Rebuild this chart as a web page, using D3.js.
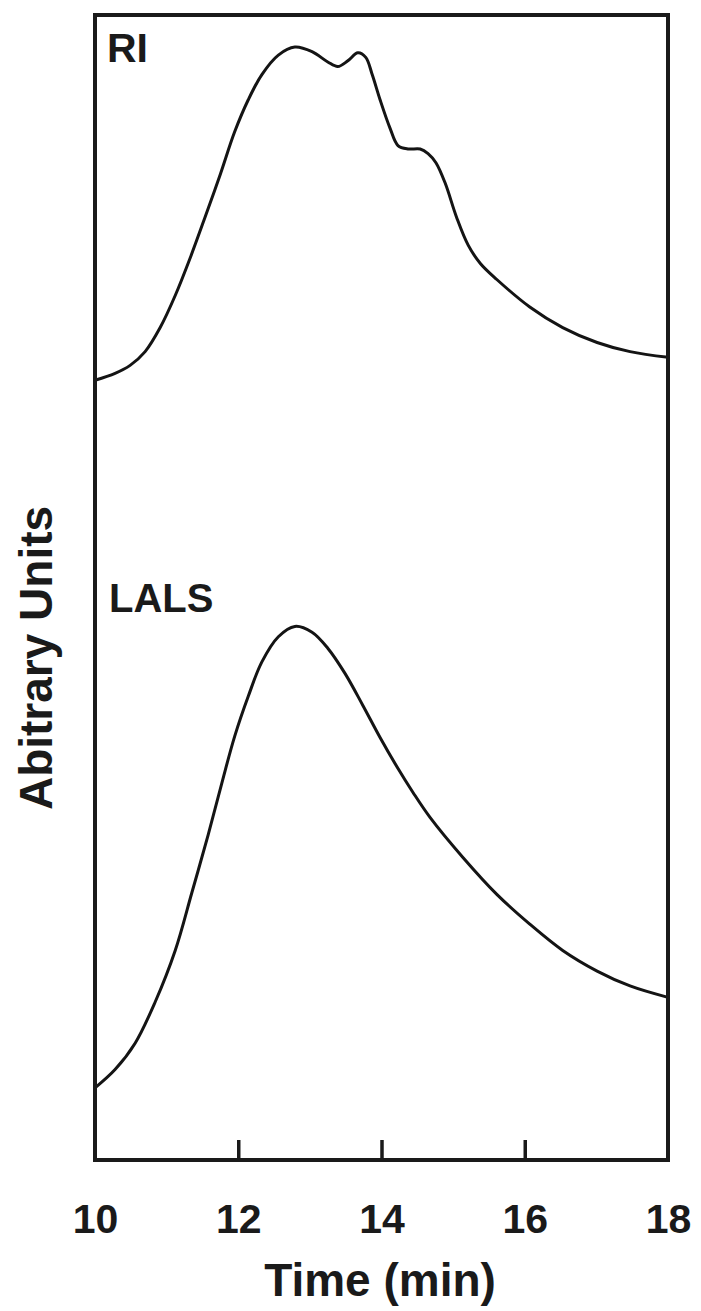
<!DOCTYPE html>
<html>
<head>
<meta charset="utf-8">
<script src="https://cdn.jsdelivr.net/npm/d3@7"></script>
<style>
  html, body { margin: 0; padding: 0; background: #fff; }
  svg { display: block; }
  text { font-family: "Liberation Sans", Arial, sans-serif; font-weight: bold; fill: #1a1a1a; }
</style>
</head>
<body>
<script>
// ---- data (arbitrary units, time in min) ----
const riTime = [10.00,10.28,10.49,10.70,10.91,11.12,11.33,11.54,11.75,11.95,12.14,12.33,12.56,12.79,13.03,13.25,13.39,13.53,13.67,13.78,13.87,13.98,14.12,14.23,14.37,14.54,14.65,14.76,14.89,15.05,15.21,15.38,15.61,16.07,16.53,17.01,17.47,18.00];
const riValue = [68.1,68.7,69.4,70.6,72.7,75.5,78.8,82.4,86.1,89.8,92.6,94.8,96.5,97.2,96.8,95.9,95.5,96.0,96.7,96.3,94.8,92.6,90.1,88.6,88.3,88.3,87.9,87.1,85.3,82.3,79.9,78.3,76.9,74.5,72.7,71.4,70.6,70.1];
const lalsTime = [10.00,10.28,10.56,10.84,11.12,11.35,11.58,11.77,11.95,12.14,12.33,12.56,12.79,13.03,13.25,13.49,13.74,13.98,14.22,14.44,14.68,15.14,15.61,16.07,16.53,17.01,17.47,18.00];
const lalsValue = [6.3,7.9,10.2,13.8,18.3,23.3,28.4,32.9,37.0,40.5,43.5,45.7,46.6,46.1,44.7,42.5,39.7,36.9,34.3,32.1,29.9,26.4,23.2,20.6,18.3,16.5,15.2,14.2];
const xTicks = [10, 12, 14, 16, 18];
const seriesLabels = ["RI", "LALS"];
const xTitle = "Time (min)";
const yTitle = "Abitrary Units";

// ---- layout ----
const W = 701, H = 1311;
const mLeft = 95, mRight = 668, mTop = 15, mBottom = 1160;

const svg = d3.select("body").append("svg").attr("width", W).attr("height", H);

const x = d3.scaleLinear().domain([10, 18]).range([mLeft, mRight]);
const y = d3.scaleLinear().domain([0, 100]).range([mBottom, mTop]);

const line = d3.line().x(d => x(d[0])).y(d => y(d[1])).curve(d3.curveCatmullRom.alpha(0.5));

const ri = riTime.map((t, i) => [t, riValue[i]]);
const lals = lalsTime.map((t, i) => [t, lalsValue[i]]);

[ri, lals].forEach(s => {
  svg.append("path").datum(s)
    .attr("d", line)
    .attr("fill", "none")
    .attr("stroke", "#141414")
    .attr("stroke-width", 3)
    .attr("stroke-linejoin", "round");
});

// frame
svg.append("rect")
  .attr("x", mLeft).attr("y", mTop)
  .attr("width", mRight - mLeft).attr("height", mBottom - mTop)
  .attr("fill", "none").attr("stroke", "#1a1a1a").attr("stroke-width", 4);

// x axis (inward ticks)
const xAxis = d3.axisBottom(x).tickValues(xTicks).tickSizeInner(-20).tickSizeOuter(0).tickPadding(44);
const gx = svg.append("g").attr("transform", `translate(0,${mBottom})`).call(xAxis);
gx.select(".domain").remove();
gx.selectAll(".tick line").attr("stroke", "#1a1a1a").attr("stroke-width", 3.5)
  .style("display", d => (d === 10 || d === 18) ? "none" : null);
gx.selectAll(".tick text")
  .attr("font-size", 41)
  .attr("font-family", "Liberation Sans, Arial, sans-serif")
  .attr("font-weight", "bold")
  .attr("fill", "#1a1a1a");

// series labels
svg.append("text").attr("x", 107).attr("y", 62).attr("font-size", 41).text(seriesLabels[0]);
svg.append("text").attr("x", 109).attr("y", 612).attr("font-size", 40).text(seriesLabels[1]);

// axis titles
svg.append("text").attr("x", 380).attr("y", 1296).attr("text-anchor", "middle")
  .attr("font-size", 46).text(xTitle);
svg.append("text").attr("transform", "translate(52,658) rotate(-90)")
  .attr("text-anchor", "middle").attr("font-size", 46).text(yTitle);
</script>
</body>
</html>
